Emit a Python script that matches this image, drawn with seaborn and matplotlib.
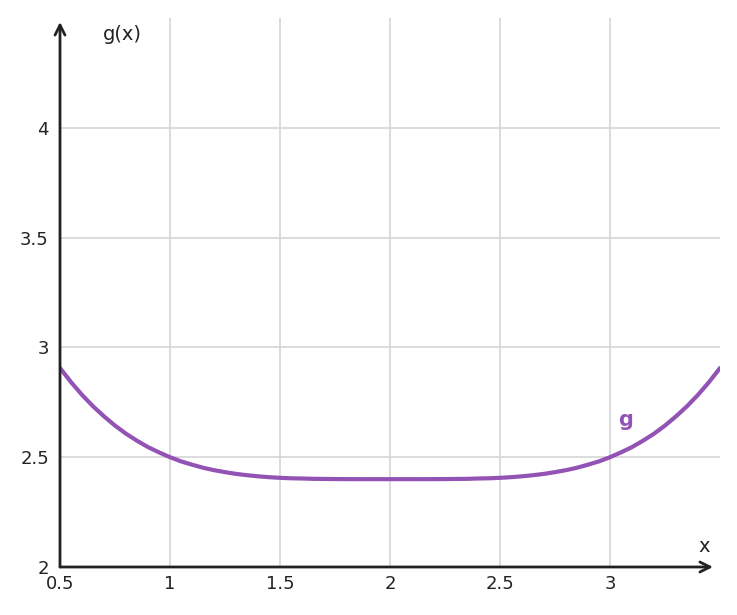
import matplotlib
matplotlib.use("Agg")
import matplotlib.pyplot as plt
import seaborn as sns
import pandas as pd

# Data
x_vals = [0.5, 0.55, 0.6, 0.65, 0.7, 0.75, 0.8, 0.85, 0.9, 0.95,
          1.0, 1.05, 1.1, 1.15, 1.2, 1.25, 1.3, 1.35, 1.4, 1.45,
          1.5, 1.55, 1.6, 1.65, 1.7, 1.75, 1.8, 1.85, 1.9, 1.95,
          2.0, 2.05, 2.1, 2.15, 2.2, 2.25, 2.3, 2.35, 2.4, 2.45,
          2.5, 2.55, 2.6, 2.65, 2.7, 2.75, 2.8, 2.85, 2.9, 2.95,
          3.0, 3.05, 3.1, 3.15, 3.2, 3.25, 3.3, 3.35, 3.4, 3.45, 3.5]
g_vals = [2.906, 2.842, 2.784, 2.732, 2.686, 2.644, 2.607, 2.575, 2.546, 2.522,
          2.500, 2.481, 2.466, 2.452, 2.441, 2.432, 2.424, 2.418, 2.413, 2.409,
          2.406, 2.404, 2.403, 2.4015, 2.401, 2.4004, 2.4002, 2.4, 2.4, 2.4,
          2.4, 2.4, 2.4, 2.4, 2.4002, 2.4004, 2.401, 2.4015, 2.403, 2.404,
          2.406, 2.409, 2.413, 2.418, 2.424, 2.432, 2.441, 2.452, 2.466, 2.481,
          2.500, 2.522, 2.546, 2.575, 2.607, 2.644, 2.686, 2.732, 2.784, 2.842, 2.906]
x_ticks = [0.5, 1, 1.5, 2, 2.5, 3]
x_tick_labels = ["0.5", "1", "1.5", "2", "2.5", "3"]
y_ticks = [2, 2.5, 3, 3.5, 4]
y_tick_labels = ["2", "2.5", "3", "3.5", "4"]
grid_x = [1, 1.5, 2, 2.5, 3]
grid_y = [2.5, 3, 3.5, 4]

sns.set_theme(style="white")
plt.rcParams['font.family'] = ['DejaVu Sans']

color = "#9253b5"
ink = "#222222"

fig = plt.figure(figsize=(7.37, 6.15), dpi=100)
ax = fig.add_axes([60/737, 1-567/615, 660/737, 549/615])
ax.set_xlim(0.5, 3.5)
ax.set_ylim(2, 4.5)

for gx in grid_x:
    ax.axvline(gx, color="#d6d6d6", lw=1.2, zorder=0)
for gy in grid_y:
    ax.axhline(gy, color="#d6d6d6", lw=1.2, zorder=0)

df = pd.DataFrame({"x": x_vals, "g": g_vals})
sns.lineplot(data=df, x="x", y="g", ax=ax, color=color, lw=3, zorder=3)

for s in ax.spines.values():
    s.set_visible(False)

ax.annotate("", xy=(0, 1.0 - 4/549), xytext=(0, 0), xycoords="axes fraction",
            arrowprops=dict(arrowstyle="->", color=ink, lw=2, mutation_scale=18,
                            shrinkA=0, shrinkB=0), annotation_clip=False, zorder=5)
ax.annotate("", xy=(653/660, 0), xytext=(0, 0), xycoords="axes fraction",
            arrowprops=dict(arrowstyle="->", color=ink, lw=2, mutation_scale=18,
                            shrinkA=0, shrinkB=0), annotation_clip=False, zorder=5)

ax.set_xticks(x_ticks)
ax.set_xticklabels(x_tick_labels)
ax.set_yticks(y_ticks)
ax.set_yticklabels(y_tick_labels)
ax.tick_params(axis="both", direction="in", length=4, width=2, color=ink,
               labelsize=13, labelcolor=ink, pad=6)
ax.tick_params(axis="y", pad=8)
ax.set_xlabel("")
ax.set_ylabel("")

ax.text(122/737, 1-35/615, "g(x)", transform=fig.transFigure, fontsize=14,
        color=ink, ha="center", va="center")
ax.text(704/737, 1-547/615, "x", transform=fig.transFigure, fontsize=14,
        color=ink, ha="center", va="center")
ax.text(3.07, 2.67, "g", fontsize=15, fontweight="bold", color=color,
        ha="center", va="center")

fig.savefig("out.png", dpi=100)
